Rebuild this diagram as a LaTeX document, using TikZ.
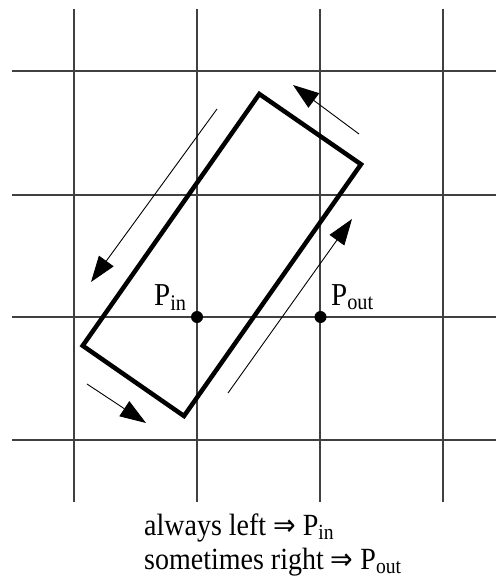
\documentclass[tikz,border=0pt]{standalone}
\usepackage{fontspec}
\setmainfont{Liberation Serif}
\newfontfamily\arrowfont{DejaVu Sans}
\usetikzlibrary{arrows.meta}
\newcommand{\impl}{{\arrowfont\fontsize{27}{27}\selectfont ⇒}}
\newcommand{\tallish}[1]{\scalebox{1}[1.1]{#1}}
\begin{document}
\begin{tikzpicture}[x=1pt,y=-1pt,
  gridline/.style={line width=1.3pt,draw=black!75},
  boxline/.style={line width=4.5pt,line join=miter},
  movearrow/.style={line width=0.9pt,-{Triangle[length=26pt,width=18pt]}},
  dotnode/.style={circle,fill=black,inner sep=0pt,minimum size=12pt},
  lbl/.style={font=\fontsize{29}{32}\selectfont,inner sep=0pt},
  caplbl/.style={font=\fontsize{28}{32}\selectfont,inner sep=0pt},
]
\useasboundingbox (0,0) rectangle (496,583);
% grid
\foreach \gx in {74,197,320,443} \draw[gridline] (\gx,9) -- (\gx,502);
\foreach \gy in {71,195,317,440} \draw[gridline] (12,\gy) -- (496,\gy);
% rectangle
\coordinate (rt) at (259.3,94);
\coordinate (rr) at (361,164.3);
\coordinate (rb) at (184,416);
\coordinate (rl) at (82.7,345.7);
\draw[boxline] (rt) -- (rr) -- (rb) -- (rl) -- cycle;
% arrows
\coordinate (a1s) at (217,109); \coordinate (a1e) at (91,282);
\coordinate (a2s) at (359,134); \coordinate (a2e) at (293,85);
\coordinate (a3s) at (228,393); \coordinate (a3e) at (352,219);
\coordinate (a4s) at (87,384);  \coordinate (a4e) at (146,423);
\draw[movearrow] (a1s) -- (a1e);
\draw[movearrow] (a2s) -- (a2e);
\draw[movearrow] (a3s) -- (a3e);
\draw[movearrow] (a4s) -- (a4e);
% points
\node[dotnode] (pin) at (197,317) {};
\node[dotnode] (pout) at (320.5,317) {};
\node[lbl,anchor=base west] (pinl) at (154,305) {\tallish{P\textsubscript{in}}};
\node[lbl,anchor=base west] (poutl) at (331,305) {\tallish{P\textsubscript{out}}};
% caption
\node[caplbl,anchor=base west] (cap1) at (144,535) {\tallish{always left \impl{} P\textsubscript{in}}};
\node[caplbl,anchor=base west] (cap2) at (144,569) {\tallish{sometimes right \impl{} P\textsubscript{out}}};
\end{tikzpicture}
\end{document}
